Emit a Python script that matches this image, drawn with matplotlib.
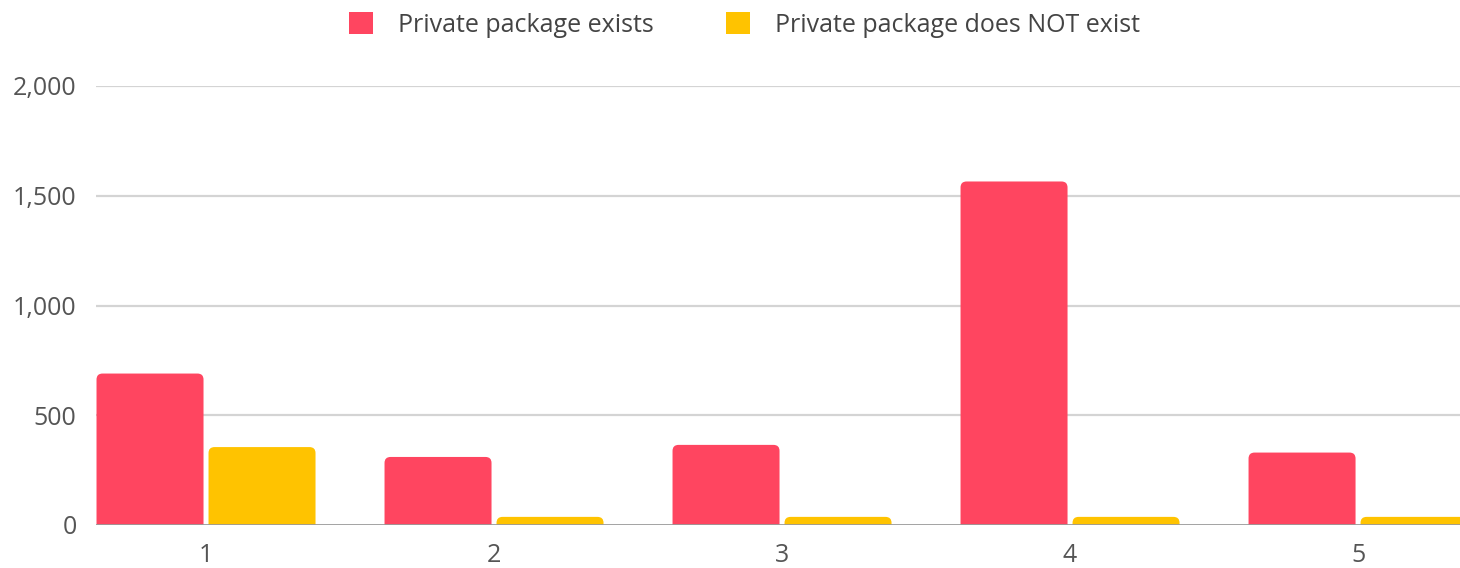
import matplotlib
matplotlib.use("Agg")
import matplotlib.pyplot as plt
from matplotlib.path import Path
from matplotlib.patches import PathPatch, Patch
from matplotlib.ticker import FuncFormatter

# Data
categories = ["1", "2", "3", "4", "5"]
series_names = ["Private package exists", "Private package does NOT exist"]
exists_values = [690, 310, 365, 1565, 330]
not_exists_values = [355, 37, 37, 37, 37]
y_ticks = [0, 500, 1000, 1500, 2000]

colors = ["#FF4560", "#FFC300"]

plt.rcParams["font.family"] = ["Open Sans", "DejaVu Sans"]

W, H, DPI = 1460, 568, 100
fig = plt.figure(figsize=(W / DPI, H / DPI), dpi=DPI)
ax_left, ax_bottom = 96 / W, 43 / H
ax_width, ax_height = 1 - ax_left, 439 / H
ax = fig.add_axes([ax_left, ax_bottom, ax_width, ax_height])

x = list(range(1, len(categories) + 1))
xlim = (1 - 0.382, len(categories) + 0.354)
ylim = (0, 2000)
ax.set_xlim(*xlim)
ax.set_ylim(*ylim)

# data units per pixel, for rounding radius
sx = (xlim[1] - xlim[0]) / (ax_width * W)
sy = (ylim[1] - ylim[0]) / (ax_height * H)

bar_w = 107 / 288
gap = 5 / 288
radius_px = 6


def rounded_bar(ax, xc, height, width, color):
    x0, x1 = xc - width / 2, xc + width / 2
    y0, y1 = 0, height
    rx = min(radius_px * sx, width / 2)
    ry = min(radius_px * sy, height)
    verts = [(x0, y0), (x1, y0), (x1, y1 - ry), (x1, y1), (x1 - rx, y1),
             (x0 + rx, y1), (x0, y1), (x0, y1 - ry), (x0, y0)]
    codes = [Path.MOVETO, Path.LINETO, Path.LINETO, Path.CURVE3, Path.CURVE3,
             Path.LINETO, Path.CURVE3, Path.CURVE3, Path.CLOSEPOLY]
    ax.add_patch(PathPatch(Path(verts, codes), facecolor=color,
                           edgecolor="none", zorder=2))


for xi, v in zip(x, exists_values):
    rounded_bar(ax, xi - (bar_w + gap) / 2, v, bar_w, colors[0])
for xi, v in zip(x, not_exists_values):
    rounded_bar(ax, xi + (bar_w + gap) / 2, v, bar_w, colors[1])

# grid and axes
ax.set_yticks(y_ticks)
ax.yaxis.set_major_formatter(FuncFormatter(lambda v, p: f"{int(v):,}"))
ax.set_xticks(x)
ax.set_xticklabels(categories)
for yt in y_ticks[1:]:
    ax.axhline(yt, color="#d4d4d4", lw=1.6, zorder=1)
ax.axhline(0, color="#9a9a9a", lw=2.0, zorder=3)
for s in ax.spines.values():
    s.set_visible(False)
ax.tick_params(axis="both", length=0, labelsize=18, colors="#555555")
ax.tick_params(axis="y", pad=14)
ax.tick_params(axis="x", pad=13)
for lab in ax.get_yticklabels() + ax.get_xticklabels():
    lab.set_color("#555555")

handles = [Patch(facecolor=c, edgecolor="none") for c in colors]
fig.legend(handles, series_names, loc="upper center",
           bbox_to_anchor=(0.510, 1.018), ncol=2, frameon=False,
           fontsize=18, handlelength=0.95, handleheight=0.95,
           handletextpad=1.0, columnspacing=2.9, labelcolor="#444444")

fig.savefig("out.png", dpi=DPI, facecolor="white")
